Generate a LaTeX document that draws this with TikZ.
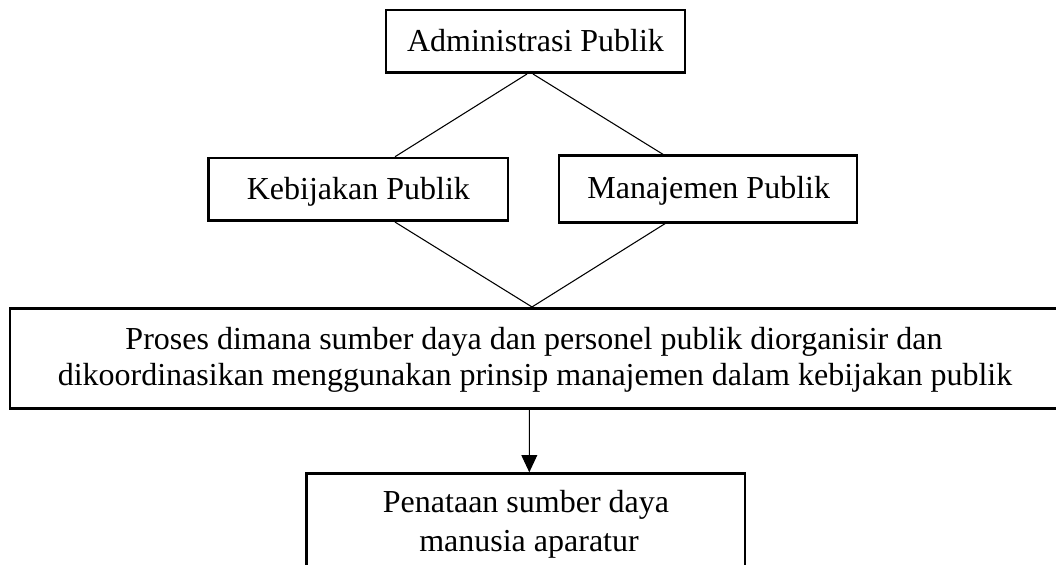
\documentclass[tikz,border=0pt]{standalone}
\usepackage{fontspec}
\setmainfont{Liberation Serif}
\usetikzlibrary{calc,arrows.meta}
\begin{document}
\begin{tikzpicture}[x=0.375pt,y=-0.375pt,
  box/.style={draw,line width=1pt,inner sep=0pt,rectangle},
  txt/.style={inner sep=0pt,anchor=base,font=\fontsize{12}{14}\selectfont},
  conn/.style={line width=0.4pt}]
\useasboundingbox (0,0) rectangle (1056,565);
% boxes
\node[box,minimum width=112.1pt,minimum height=23.5pt] (adm) at (535.5,41.35) {};
\node[box,minimum width=112.3pt,minimum height=23.5pt] (keb) at (358.3,189.4) {};
\node[box,minimum width=111.75pt,minimum height=25pt] (man) at (708,189) {};
\node[box,minimum width=393pt,minimum height=37.5pt] (big) at (534,358.3) {};
\node[box,minimum width=164.4pt,minimum height=52.5pt,anchor=north] (bot) at (525.8,472.3) {};
% texts
\node[txt] (admt) at (535.5,51.7) {Administrasi Publik};
\node[txt] (kebt) at (358.4,200) {Kebijakan Publik};
\node[txt] (mant) at (708.7,198.3) {Manajemen Publik};
\node[txt] (bigt1) at (534,350) {Proses dimana sumber daya dan personel publik diorganisir dan};
\node[txt] (bigt2) at (535,386) {dikoordinasikan menggunakan prinsip manajemen dalam kebijakan publik};
\node[txt] (bott1) at (526,513) {Penataan sumber daya};
\node[txt] (bott2) at (529,551.7) {manusia aparatur};
% connectors
\draw[conn] ($(adm.south)+(-8.5,0)$) -- ($(keb.north)+(36.7,0)$);
\draw[conn] ($(adm.south)+(-2.5,0)$) -- ($(man.north)+(-45,0)$);
\draw[conn] ($(keb.south)+(36.7,0)$) -- ($(big.north)+(-2,0)$);
\draw[conn] ($(man.south)+(-43,0)$) -- ($(big.north)+(-2,0)$);
\draw[conn,-{Triangle[length=6.4pt,width=5.9pt]}] ($(big.south)+(-4.7,0)$) -- ($(bot.north)+(3.5,0)$);
\end{tikzpicture}
\end{document}
